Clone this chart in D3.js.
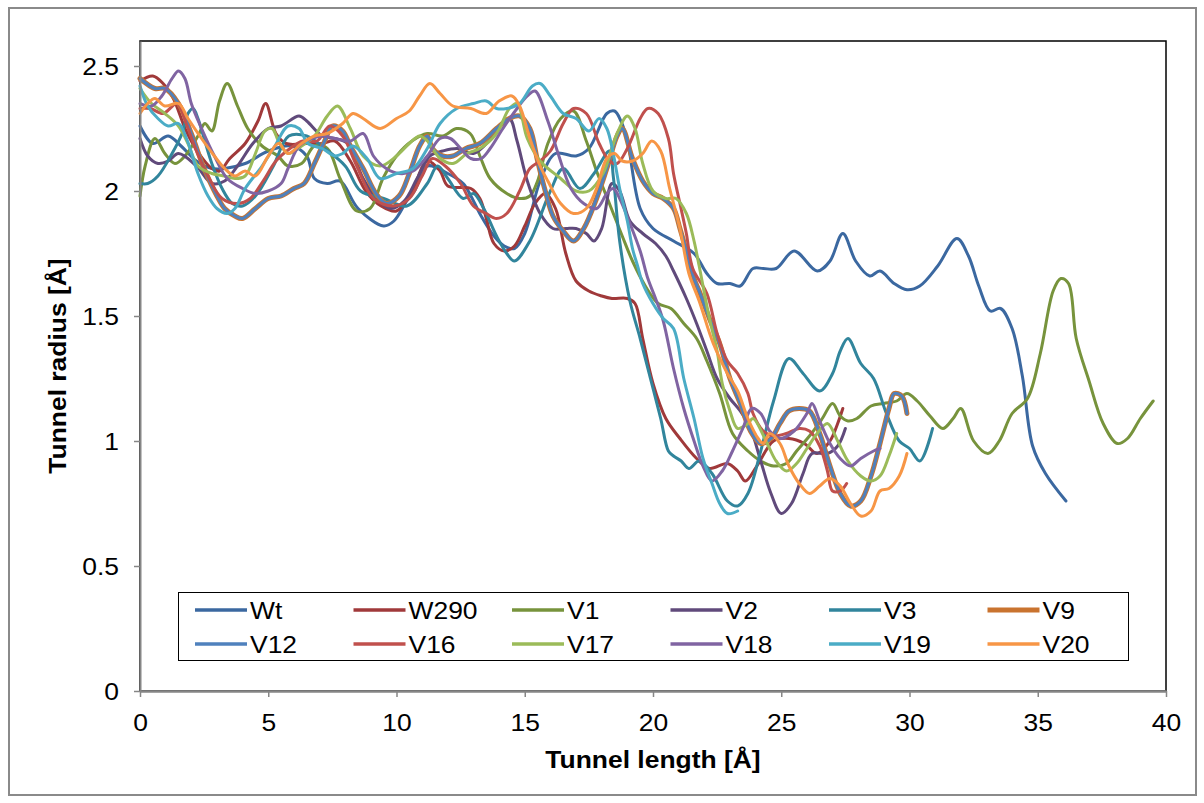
<!DOCTYPE html>
<html><head><meta charset="utf-8">
<script src="https://cdn.jsdelivr.net/npm/d3@7"></script>
<style>body{margin:0;background:#fff}svg{display:block}</style>
</head><body><svg id="c" width="1204" height="803"></svg>
<script>
const xTicks=[0,5,10,15,20,25,30,35,40];
const yTicks=[0,0.5,1,1.5,2,2.5];
const xTitle="Tunnel length [Å]";
const yTitle="Tunnel radius [Å]";
const seriesNames=["Wt","W290","V1","V2","V3","V9","V12","V16","V17","V18","V19","V20"];

const wt=[[0,2.26],[0.5,2.19],[1.1,2.22],[1.6,2.18],[2.2,2.12],[2.8,2.09],[3.3,2.09],[4.1,2.11],[5.0,2.16],[5.9,2.18],[6.5,2.14],[6.8,2.05],[7.3,2.03],[7.8,2.04],[8.5,1.93],[9.5,1.86],[9.9,1.88],[10.4,1.96],[10.7,2.0],[11.2,2.1],[12.0,2.07],[12.6,2.03],[12.9,1.98],[13.3,1.9],[13.8,1.82],[14.2,1.78],[14.6,1.77],[15.0,1.83],[15.6,2.04],[16.2,2.15],[17.0,2.14],[17.5,2.17],[18.2,2.31],[18.5,2.32],[18.75,2.28],[19.0,2.2],[19.5,1.93],[20.0,1.85],[20.8,1.8],[21.6,1.75],[22.1,1.67],[22.5,1.63],[23.0,1.63],[23.4,1.62],[23.9,1.69],[24.3,1.69],[24.8,1.69],[25.5,1.76],[26.4,1.68],[26.9,1.72],[27.4,1.83],[27.9,1.72],[28.45,1.66],[28.85,1.68],[29.4,1.63],[29.9,1.605],[30.4,1.62],[31.1,1.7],[31.85,1.81],[32.3,1.74],[32.7,1.62],[33.15,1.52],[33.55,1.53],[34.0,1.45],[34.4,1.26],[34.8,0.98],[35.3,0.87],[36.1,0.76]];
const w290=[[0,2.44],[0.5,2.46],[0.9,2.43],[1.3,2.37],[1.8,2.24],[2.3,2.15],[2.8,2.09],[3.1,2.08],[3.5,2.13],[4.1,2.19],[4.6,2.28],[4.9,2.35],[5.3,2.23],[5.7,2.19],[6.5,2.19],[7.1,2.19],[7.6,2.2],[8.2,2.12],[8.8,2.0],[9.4,1.94],[10.0,1.92],[10.6,2.0],[11.2,2.12],[11.7,2.08],[12.0,2.02],[12.9,2.01],[13.25,1.97],[13.5,1.89],[13.8,1.79],[14.2,1.76],[14.6,1.78],[15.0,1.86],[15.4,1.95],[15.8,1.99],[16.2,1.93],[16.6,1.75],[17.0,1.64],[17.5,1.60],[18.0,1.58],[18.4,1.57],[19.0,1.57],[19.3,1.55],[19.6,1.41],[20.0,1.23],[20.5,1.09],[21.05,1.01],[21.7,0.93],[22.2,0.89],[22.9,0.91],[23.3,0.88],[23.6,0.84],[24.05,0.9],[24.7,1.0],[25.3,1.01],[25.9,0.99],[26.4,0.95],[26.9,1.0],[27.2,1.07],[27.4,1.13]];
const v1=[[0,1.98],[0.2,2.1],[0.58,2.21],[0.97,2.15],[1.36,2.11],[1.75,2.14],[2.26,2.22],[2.53,2.27],[2.8,2.24],[3.1,2.36],[3.4,2.43],[3.8,2.34],[4.2,2.25],[4.76,2.18],[5.38,2.14],[5.77,2.1],[6.3,2.11],[6.8,2.18],[7.3,2.17],[7.8,2.05],[8.45,1.92],[8.97,1.93],[9.47,2.05],[10.0,2.14],[10.6,2.2],[11.2,2.23],[11.8,2.22],[12.35,2.25],[12.87,2.23],[13.25,2.14],[13.65,2.05],[14.3,1.99],[14.8,1.97],[15.2,1.98],[15.5,2.04],[15.9,2.19],[16.4,2.29],[16.9,2.32],[17.4,2.2],[17.8,2.08],[18.3,1.95],[18.8,1.82],[19.2,1.72],[19.7,1.62],[20.2,1.55],[20.7,1.53],[21.2,1.47],[21.7,1.41],[22.1,1.32],[22.6,1.19],[23.1,1.03],[23.7,0.96],[24.2,0.92],[24.7,0.9],[25.2,0.91],[25.6,0.96],[26.1,1.02],[26.6,1.09],[27.0,1.15],[27.3,1.1],[27.6,1.08],[27.95,1.09],[28.5,1.14],[29.0,1.15],[29.5,1.16],[29.9,1.19],[30.3,1.16],[30.8,1.1],[31.3,1.05],[31.7,1.09],[32.0,1.13],[32.5,1.0],[33.06,0.95],[33.5,1.0],[34.0,1.11],[34.6,1.17],[35.1,1.35],[35.6,1.6],[35.9,1.65],[36.2,1.63],[36.5,1.41],[37.0,1.24],[37.55,1.07],[38.1,0.99],[38.5,1.01],[39.0,1.09],[39.5,1.16]];
const v2=[[0,2.21],[0.3,2.14],[0.7,2.11],[1.1,2.12],[1.5,2.15],[2.2,2.1],[2.8,2.03],[3.3,2.04],[3.8,2.1],[4.4,2.19],[5.0,2.25],[5.5,2.26],[6.2,2.3],[6.5,2.28],[7.1,2.22],[7.6,2.21],[8.1,2.19],[8.7,2.05],[9.3,1.96],[9.8,1.93],[10.3,1.96],[10.8,2.05],[11.3,2.14],[11.8,2.16],[12.4,2.17],[13.0,2.15],[13.6,2.2],[14.0,2.26],[14.4,2.29],[14.7,2.2],[15.1,2.04],[15.6,1.91],[16.1,1.85],[16.6,1.85],[17.0,1.85],[17.4,1.83],[17.7,1.8],[18.0,1.85],[18.4,2.03],[18.7,2.0],[19.1,1.88],[19.6,1.83],[20.1,1.79],[20.5,1.74],[20.8,1.68],[21.3,1.57],[21.7,1.47],[22.1,1.36],[22.5,1.25],[23.0,1.17],[23.4,1.12],[23.8,1.05],[24.2,0.92],[24.6,0.79],[25.0,0.71],[25.4,0.75],[25.85,0.87],[26.2,0.95],[26.8,0.95],[27.2,0.98],[27.5,1.05]];
const v3=[[0,2.03],[0.3,2.03],[0.7,2.06],[1.25,2.15],[1.64,2.23],[1.87,2.31],[2.07,2.33],[2.26,2.29],[2.5,2.21],[2.8,2.11],[3.2,2.01],[3.6,1.95],[4.0,1.94],[4.5,1.98],[5.2,2.1],[5.8,2.22],[6.5,2.22],[7.2,2.17],[8.0,2.1],[8.6,2.0],[9.5,1.97],[10.4,1.94],[11.2,2.03],[11.6,2.1],[12.0,2.05],[12.6,1.97],[13.0,1.99],[13.4,1.93],[13.9,1.82],[14.3,1.75],[14.6,1.72],[15.2,1.8],[16.0,2.0],[16.5,2.09],[17.15,2.01],[17.7,2.07],[18.3,2.16],[18.45,2.06],[18.7,1.8],[19.1,1.56],[19.5,1.41],[19.9,1.25],[20.3,1.09],[20.6,0.96],[20.8,0.94],[21.1,0.92],[21.4,0.89],[21.8,0.92],[22.3,0.87],[22.9,0.76],[23.3,0.74],[23.7,0.79],[24.2,0.96],[24.7,1.16],[25.3,1.33],[25.85,1.27],[26.5,1.2],[27.0,1.27],[27.3,1.36],[27.6,1.41],[28.1,1.31],[28.6,1.25],[29.1,1.11],[29.6,1.0],[30.0,0.97],[30.4,0.92],[30.9,1.05]];
const v9=[[0,2.45],[0.58,2.41],[0.97,2.41],[1.5,2.35],[2.0,2.23],[2.5,2.09],[3.0,1.98],[3.3,1.93],[3.7,1.9],[4.0,1.89],[4.5,1.93],[5.0,1.97],[5.5,1.98],[6.0,2.01],[6.4,2.03],[6.8,2.11],[7.2,2.2],[7.5,2.26],[7.9,2.24],[8.2,2.18],[8.7,2.09],[9.2,1.99],[9.6,1.95],[10.1,1.98],[10.5,2.07],[10.9,2.18],[11.2,2.22],[11.4,2.17],[11.8,2.14],[12.2,2.14],[12.7,2.17],[13.25,2.19],[13.9,2.25],[14.4,2.29],[14.8,2.3],[15.2,2.25],[15.5,2.12],[15.8,2.0],[16.1,1.9],[16.5,1.84],[16.9,1.8],[17.3,1.85],[17.8,1.97],[18.2,2.09],[18.6,2.22],[18.8,2.25],[19.2,2.13],[19.6,2.04],[20.0,1.99],[20.4,1.97],[20.8,1.93],[21.05,1.85],[21.3,1.76],[21.6,1.65],[21.8,1.6],[22.2,1.49],[22.6,1.39],[23.0,1.25],[23.4,1.15],[23.8,1.04],[24.2,0.99],[24.6,1.01],[24.95,1.07],[25.3,1.12],[25.7,1.13],[26.1,1.12],[26.5,1.03],[26.9,0.9],[27.3,0.79],[27.7,0.74],[28.1,0.76],[28.5,0.86],[28.85,0.99],[29.2,1.13],[29.4,1.19],[29.7,1.18],[29.9,1.11]];
const v12=[[0,2.45],[0.58,2.41],[0.97,2.41],[1.5,2.35],[2.0,2.23],[2.5,2.09],[3.0,1.98],[3.3,1.93],[3.7,1.9],[4.0,1.89],[4.5,1.93],[5.0,1.97],[5.5,1.98],[6.0,2.01],[6.4,2.03],[6.8,2.11],[7.2,2.2],[7.5,2.26],[7.9,2.24],[8.2,2.18],[8.7,2.09],[9.2,1.99],[9.6,1.95],[10.1,1.98],[10.5,2.07],[10.9,2.18],[11.2,2.22],[11.4,2.17],[11.8,2.14],[12.2,2.14],[12.7,2.17],[13.25,2.19],[13.9,2.25],[14.4,2.29],[14.8,2.3],[15.2,2.25],[15.5,2.12],[15.8,2.0],[16.1,1.9],[16.5,1.84],[16.9,1.8],[17.3,1.85],[17.8,1.97],[18.2,2.09],[18.6,2.22],[18.8,2.25],[19.2,2.13],[19.6,2.04],[20.0,1.99],[20.4,1.97],[20.8,1.93],[21.05,1.85],[21.3,1.76],[21.6,1.65],[21.8,1.6],[22.2,1.49],[22.6,1.39],[23.0,1.25],[23.4,1.15],[23.8,1.04],[24.2,0.99],[24.6,1.01],[24.95,1.07],[25.3,1.12],[25.7,1.13],[26.1,1.12],[26.5,1.03],[26.9,0.9],[27.3,0.79],[27.7,0.74],[28.1,0.76],[28.5,0.86],[28.85,0.99],[29.2,1.13],[29.4,1.19],[29.7,1.18],[29.9,1.11]];
const v16=[[0,2.33],[0.4,2.33],[0.9,2.31],[1.45,2.35],[1.8,2.27],[2.2,2.16],[2.7,2.05],[3.2,1.97],[3.8,1.95],[4.3,1.97],[4.8,2.04],[5.3,2.12],[5.85,2.17],[6.35,2.2],[6.9,2.2],[7.4,2.26],[7.9,2.22],[8.45,2.1],[9.1,1.97],[9.9,1.94],[10.5,1.97],[11.0,2.06],[11.4,2.13],[11.9,2.1],[12.5,2.03],[13.0,1.94],[13.5,1.91],[13.9,1.89],[14.3,1.91],[14.8,2.0],[15.2,2.09],[15.6,2.12],[16.0,2.16],[16.5,2.27],[16.9,2.33],[17.4,2.31],[17.9,2.19],[18.3,2.12],[18.6,2.11],[19.0,2.17],[19.5,2.29],[19.8,2.33],[20.2,2.31],[20.6,2.21],[20.8,2.07],[21.05,1.95],[21.3,1.83],[21.55,1.69],[22.1,1.59],[22.5,1.43],[22.9,1.32],[23.3,1.27],[23.7,1.19],[23.9,1.11],[24.3,1.04],[24.7,1.02],[25.2,1.03],[25.7,1.05],[26.1,1.04],[26.5,0.98],[26.8,0.88],[27.0,0.8],[27.3,0.8],[27.55,0.83]];
const v17=[[0,2.41],[0.45,2.35],[0.97,2.31],[1.5,2.26],[1.87,2.19],[2.26,2.1],[2.8,2.07],[3.3,2.06],[3.7,2.05],[4.1,2.06],[4.5,2.15],[4.87,2.24],[5.15,2.25],[5.4,2.2],[5.77,2.15],[6.3,2.18],[6.8,2.22],[7.3,2.3],[7.7,2.34],[8.2,2.25],[8.7,2.14],[9.36,2.1],[10.0,2.14],[10.5,2.19],[10.9,2.22],[11.2,2.2],[11.7,2.13],[12.2,2.11],[12.75,2.15],[13.25,2.17],[13.9,2.23],[14.4,2.33],[14.7,2.35],[15.1,2.21],[15.6,2.12],[16.4,2.05],[17.0,2.0],[17.5,2.0],[18.05,2.07],[18.6,2.23],[19.0,2.3],[19.3,2.25],[19.6,2.11],[20.0,2.0],[20.5,1.97],[20.9,1.97],[21.3,1.91],[21.6,1.8],[21.8,1.7],[22.2,1.49],[22.5,1.36],[22.7,1.23],[23.0,1.12],[23.3,1.05],[23.7,1.07],[23.9,1.09],[24.45,0.99],[24.8,0.92],[25.2,0.88],[25.6,0.91],[26.0,0.97],[26.4,1.03],[26.8,1.07],[27.2,1.0],[27.6,0.92],[28.1,0.86],[28.5,0.84],[28.85,0.86],[29.2,0.94],[29.5,1.03]];
const v18=[[0,2.35],[0.45,2.34],[0.85,2.38],[1.25,2.45],[1.5,2.48],[1.75,2.45],[2.0,2.35],[2.4,2.25],[2.9,2.14],[3.4,2.05],[4.0,2.01],[4.5,1.99],[5.0,2.0],[5.5,2.03],[5.77,2.09],[6.2,2.18],[6.7,2.21],[7.1,2.22],[7.6,2.21],[8.2,2.2],[8.7,2.23],[9.1,2.14],[9.6,2.09],[10.1,2.07],[10.65,2.08],[11.2,2.14],[11.7,2.21],[12.1,2.21],[12.5,2.17],[12.9,2.13],[13.3,2.13],[13.65,2.17],[14.15,2.25],[14.7,2.33],[15.1,2.38],[15.4,2.4],[15.9,2.28],[16.3,2.15],[16.8,2.01],[17.3,1.95],[17.8,1.93],[18.2,1.99],[18.45,2.01],[18.7,1.97],[19.1,1.87],[19.5,1.76],[19.8,1.65],[20.1,1.57],[20.4,1.48],[20.8,1.29],[21.2,1.13],[21.6,1.0],[21.95,0.9],[22.3,0.84],[22.7,0.88],[23.1,0.96],[23.5,1.05],[23.85,1.13],[24.2,1.11],[24.55,1.04],[24.95,1.01],[25.5,1.04],[26.0,1.11],[26.2,1.15],[26.5,1.08],[26.9,0.99],[27.3,0.93],[27.7,0.9],[28.1,0.93],[28.6,0.96],[28.85,0.97]];
const v19=[[0,2.42],[0.3,2.34],[0.7,2.29],[1.1,2.26],[1.5,2.27],[1.85,2.2],[2.26,2.07],[2.65,1.98],[3.0,1.93],[3.4,1.91],[3.7,1.93],[4.1,2.01],[4.76,2.1],[5.26,2.18],[5.77,2.26],[6.2,2.25],[6.55,2.19],[7.1,2.17],[7.6,2.14],[7.9,2.15],[8.3,2.18],[8.85,2.13],[9.36,2.05],[10.0,2.07],[10.65,2.09],[11.2,2.17],[11.7,2.27],[12.35,2.33],[13.0,2.35],[13.5,2.36],[13.9,2.33],[14.3,2.33],[14.8,2.35],[15.3,2.42],[15.6,2.43],[16.0,2.38],[16.5,2.31],[17.0,2.29],[17.5,2.24],[17.9,2.29],[18.2,2.25],[18.45,2.15],[18.7,2.01],[19.0,1.88],[19.2,1.77],[19.4,1.7],[19.6,1.63],[20.0,1.55],[20.4,1.49],[20.8,1.45],[21.2,1.25],[21.6,1.09],[21.95,0.93],[22.3,0.83],[22.6,0.75],[22.9,0.71],[23.3,0.72]];
const v20=[[0,2.31],[0.3,2.35],[0.58,2.37],[0.97,2.34],[1.5,2.35],[1.87,2.29],[2.4,2.21],[2.9,2.14],[3.3,2.09],[3.7,2.06],[4.1,2.08],[4.5,2.06],[5.0,2.14],[5.4,2.19],[5.77,2.15],[6.3,2.19],[6.8,2.22],[7.3,2.23],[7.9,2.27],[8.3,2.31],[8.7,2.29],[9.36,2.25],[10.0,2.29],[10.5,2.32],[10.9,2.38],[11.3,2.43],[11.7,2.39],[12.2,2.34],[12.9,2.33],[13.5,2.31],[14.0,2.36],[14.5,2.38],[14.8,2.34],[15.2,2.21],[15.6,2.1],[15.9,2.04],[16.4,1.95],[16.9,1.91],[17.4,1.93],[17.8,2.01],[18.2,2.13],[18.5,2.15],[18.8,2.12],[19.2,2.12],[19.6,2.15],[19.95,2.2],[20.3,2.16],[20.65,2.01],[21.05,1.85],[21.4,1.67],[21.8,1.56],[22.35,1.39],[22.9,1.27],[23.3,1.2],[23.7,1.09],[24.1,1.01],[24.3,0.99],[24.55,1.03],[24.95,0.99],[25.3,0.9],[25.7,0.83],[26.1,0.79],[26.5,0.82],[26.9,0.85],[27.3,0.82],[27.7,0.75],[28.1,0.7],[28.5,0.72],[28.85,0.8],[29.2,0.81],[29.6,0.86],[29.9,0.95]];

const seriesData=[wt,w290,v1,v2,v3,v9,v12,v16,v17,v18,v19,v20];
const seriesColors=["#3B68A0","#A0393A","#77933C","#604A7B","#31859C","#C9732F","#4F81BD","#C0504D","#9BBB59","#8064A2","#4BACC6","#F79646"];
const seriesWidths=[3,3,3,3,3,5,3,3,3,3,3,3];

const W=1204,H=803;
const FONT="'Liberation Sans', Arial, sans-serif";
const FS=23, SX=1.15;
const svg=d3.select("#c");
svg.append("rect").attr("width",W).attr("height",H).attr("fill","#fff");
svg.append("rect").attr("x",9).attr("y",8).attr("width",1187).attr("height",787)
  .attr("fill","none").attr("stroke","#8a8a8a").attr("stroke-width",2);

const x=d3.scaleLinear().domain([0,40]).range([140,1166]);
const y=d3.scaleLinear().domain([0,2.6]).range([691,41]);

svg.append("rect").attr("x",x(0)).attr("y",y(2.6)).attr("width",x(40)-x(0)).attr("height",y(0)-y(2.6))
  .attr("fill","none").attr("stroke","#000").attr("stroke-width",1.5);

const line=d3.line().x(d=>x(d[0])).y(d=>y(d[1])).curve(d3.curveCatmullRom.alpha(0.5));
seriesData.forEach((d,i)=>{
  svg.append("path").attr("d",line(d)).attr("fill","none")
    .attr("stroke",seriesColors[i]).attr("stroke-width",seriesWidths[i])
    .attr("stroke-linejoin","round").attr("stroke-linecap","round");
});

const yAxis=d3.axisLeft(y).tickValues(yTicks).tickFormat(d3.format("")).tickSize(6).tickSizeOuter(0);
const gy=svg.append("g").attr("transform",`translate(${x(0)},0)`).call(yAxis)
  .attr("font-family",FONT).attr("font-size",FS);
gy.select(".domain").attr("stroke","#868686").attr("stroke-width",2);
gy.selectAll(".tick line").attr("stroke","#868686").attr("stroke-width",1.5);
gy.selectAll(".tick text").attr("x",0).attr("dy","0.36em").attr("fill","#000")
  .attr("transform",`translate(-21,0) scale(${SX},1)`);

const xAxis=d3.axisBottom(x).tickValues(xTicks).tickFormat(d3.format("")).tickSize(6).tickSizeOuter(0);
const gx=svg.append("g").attr("transform",`translate(0,${y(0)})`).call(xAxis)
  .attr("font-family",FONT).attr("font-size",FS);
gx.select(".domain").attr("stroke","#868686").attr("stroke-width",2.5);
gx.selectAll(".tick line").attr("stroke","#868686").attr("stroke-width",1.5);
gx.selectAll(".tick text").attr("y",0).attr("dy",0).attr("fill","#000")
  .attr("transform",`translate(0,40) scale(${SX},1)`);

svg.append("text").attr("transform",`translate(${(x(0)+x(40))/2},768) scale(${SX},1)`)
  .attr("text-anchor","middle").attr("font-family",FONT).attr("font-size",FS).attr("font-weight","bold")
  .text(xTitle);
svg.append("text").attr("transform",`translate(66,${(y(0)+y(2.6))/2}) rotate(-90) scale(${SX},1)`)
  .attr("text-anchor","middle").attr("font-family",FONT).attr("font-size",FS).attr("font-weight","bold")
  .text(yTitle);

// legend
const lg=svg.append("g");
lg.append("rect").attr("x",178.5).attr("y",592.5).attr("width",950).attr("height",68)
  .attr("fill","#fff").attr("stroke","#000").attr("stroke-width",1);
seriesNames.forEach((n,i)=>{
  const col=i%6,row=Math.floor(i/6);
  const lx=195+col*158.5, ly=row===0?610:644;
  lg.append("line").attr("x1",lx).attr("x2",lx+52).attr("y1",ly).attr("y2",ly)
    .attr("stroke",seriesColors[i]).attr("stroke-width",seriesWidths[i]===5?5:3.5);
  lg.append("text").attr("transform",`translate(${lx+55},${ly+8.5}) scale(${SX},1)`)
    .attr("font-family",FONT).attr("font-size",FS).text(n);
});
</script></body></html>
